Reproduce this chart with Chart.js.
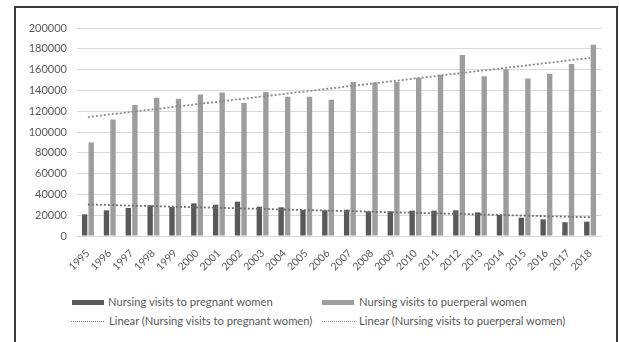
<!DOCTYPE html>
<html>
<head>
<meta charset="utf-8">
<script src="https://cdn.jsdelivr.net/npm/chart.js@4/dist/chart.umd.min.js"></script>
<style>
  html, body { margin: 0; padding: 0; background: #fff; width: 619px; height: 342px; overflow: hidden; }
  #frame { position: absolute; left: 14px; top: 6px; width: 600px; height: 345px; border: 2px solid #3a3a3a; border-bottom: none; }
  #wrap { position: absolute; left: 0; top: 0; width: 619px; height: 280px; }
  .lg { position: absolute; font-family: Lato, sans-serif; font-size: 11.2px; line-height: 14px; color: #595959; white-space: nowrap; }
  .box { position: absolute; height: 5px; width: 32px; }
  .dots { position: absolute; width: 33px; height: 0; border-top: 1.5px dotted #8a8a8a; }
</style>
</head>
<body>
<div id="frame"></div>
<div id="wrap"><canvas id="chart" width="619" height="280"></canvas></div>

<div class="box" style="left:72px; top:300px; background:#595959;"></div>
<div class="lg" style="left:108px; top:295px;">Nursing visits to pregnant women</div>
<div class="box" style="left:322px; top:300px; background:#9d9d9d;"></div>
<div class="lg" style="left:359px; top:295px;">Nursing visits to puerperal women</div>
<div class="dots" style="left:71px; top:321px; border-top-color:#6f6f6f;"></div>
<div class="lg" style="left:109px; top:314px;">Linear (Nursing visits to pregnant women)</div>
<div class="dots" style="left:322px; top:321px;"></div>
<div class="lg" style="left:359px; top:314px;">Linear (Nursing visits to puerperal women)</div>

<script>
// Yearly nursing visits, 1995-2018
const years = ['1995','1996','1997','1998','1999','2000','2001','2002','2003','2004','2005','2006',
               '2007','2008','2009','2010','2011','2012','2013','2014','2015','2016','2017','2018'];

const pregnantVisits = [20800, 24700, 26900, 29500, 27900, 31400, 30100, 33000, 28200, 27600, 25000, 24700,
                        25300, 23700, 23700, 24400, 24400, 24700, 22700, 20200, 17600, 16000, 13200, 13800];

const puerperalVisits = [90000, 112000, 126000, 133000, 132000, 136000, 138000, 128000, 138500, 134000, 134000, 131000,
                         148000, 147500, 148000, 152000, 155000, 174000, 153500, 160500, 151500, 156000, 165500, 184000];

const yMax = 200000;
const yStep = 20000;

// Least-squares linear trend over the category index
function linearTrend(values) {
  const n = values.length;
  let sx = 0, sy = 0, sxx = 0, sxy = 0;
  values.forEach((v, i) => { sx += i; sy += v; sxx += i * i; sxy += i * v; });
  const b = (n * sxy - sx * sy) / (n * sxx - sx * sx);
  const a = (sy - b * sx) / n;
  return values.map((_, i) => a + b * i);
}

const tickFont = { family: 'Lato', size: 11 };

new Chart(document.getElementById('chart'), {
  data: {
    labels: years,
    datasets: [
      { type: 'line', label: 'Linear (Nursing visits to pregnant women)', data: linearTrend(pregnantVisits),
        borderColor: '#6f6f6f', borderWidth: 1.8, borderDash: [2, 2], pointRadius: 0, fill: false, order: 0 },
      { type: 'line', label: 'Linear (Nursing visits to puerperal women)', data: linearTrend(puerperalVisits),
        borderColor: '#8a8a8a', borderWidth: 1.8, borderDash: [2, 2], pointRadius: 0, fill: false, order: 0 },
      { type: 'bar', label: 'Nursing visits to pregnant women', data: pregnantVisits,
        backgroundColor: '#595959', categoryPercentage: 0.6, barPercentage: 0.82, order: 1 },
      { type: 'bar', label: 'Nursing visits to puerperal women', data: puerperalVisits,
        backgroundColor: '#9d9d9d', categoryPercentage: 0.6, barPercentage: 0.82, order: 1 }
    ]
  },
  options: {
    responsive: false,
    animation: false,
    events: [],
    layout: { padding: { left: 0, right: 18, top: 28, bottom: 0 } },
    plugins: { legend: { display: false }, tooltip: { enabled: false } },
    scales: {
      x: {
        grid: { display: false, drawTicks: false },
        border: { color: '#d9d9d9' },
        ticks: { autoSkip: false, minRotation: 45, maxRotation: 45, padding: 11, color: '#595959',
                 font: { family: 'Lato', size: 10.5 } },
        afterFit(scale) { scale.height = 44; }
      },
      y: {
        min: 0, max: yMax,
        grid: { color: '#d9d9d9', drawTicks: false },
        border: { display: false },
        ticks: { stepSize: yStep, padding: 10, color: '#595959', font: tickFont,
                 callback: (value) => String(value) },
        afterFit(scale) { scale.width = 77; }
      }
    }
  }
});
</script>
</body>
</html>
